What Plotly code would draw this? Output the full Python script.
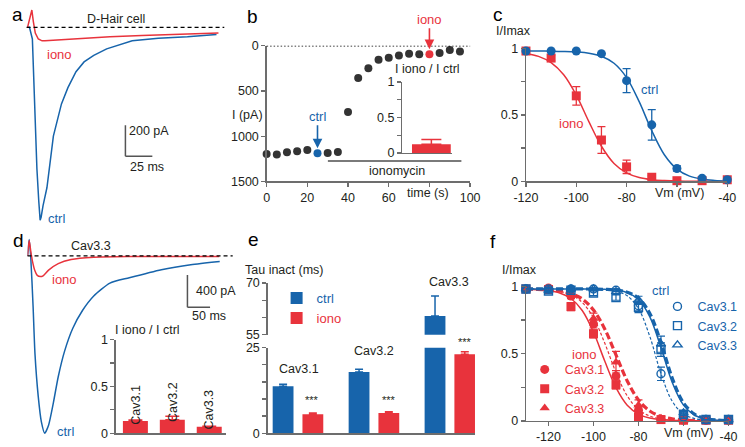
import plotly.graph_objects as go

W, H = 745, 447
FONT = "Liberation Sans, Arial, Helvetica, sans-serif"
BLUE = "#1764ab"
RED = "#e8333c"
DOT = "#333333"
AX = "#6d6d6d"
INK = "#231f20"

# ---------------- data ----------------
# (a) D-Hair cell currents (ms, pA)
a_t_ctrl = [0, 1.8, 4.5, 6.3, 8.7, 10.4, 11.7, 12.6, 14.4, 18.0, 24.0, 31.5, 37.5, 45.0, 52.5, 61.5, 73.5, 97.2, 121.5, 148.5, 175.5]
a_i_ctrl = [0, 0, -75, -494, -912, -1119, -1244, -1225, -1150, -1035, -702, -494, -389, -286, -223, -181, -139, -87, -71, -61, -46]
a_t_iono = [0, 2.7, 4.0, 5.4, 7.2, 10.0, 13.5, 16.2, 22.5, 46.8, 76.5, 106.2, 136.8, 166.5, 177.3]
a_i_iono = [0, 81, 112, 37, -37, -75, -87, -87, -84, -71, -61, -52, -46, -36, -36]

# (b) time course
b_time = [0, 5, 10, 15, 20, 25, 30, 35, 40, 45, 50, 55, 60, 65, 70, 75, 80, 85, 90, 95]
b_current = [1197, 1203, 1179, 1168, 1154, 1189, 1186, 1175, 732, 357, 250, 154, 132, 107, 89, 93, 93, 79, 46, 64]
b_ctrl_time = 25
b_iono_time = 80
b_ratio_label = ["iono/ctrl"]
b_ratio = [0.123]
b_ratio_err = [0.067]

# (c) inactivation D-Hair
c_v = [-120, -110, -100, -90, -80, -70, -60, -50, -40]
c_ctrl = [0.98, 0.98, 0.98, 0.96, 0.757, 0.425, 0.097, 0.024, 0.012]
c_ctrl_err = [0, 0, 0, 0, 0.09, 0.115, 0.02, 0.01, 0]
c_iono = [0.98, 0.927, 0.643, 0.311, 0.109, 0.031, 0.005, 0.005, 0.012]
c_iono_err = [0, 0.02, 0.07, 0.10, 0.05, 0.01, 0, 0, 0]
c_fit_v = [-120, -115, -110, -105, -100, -95, -90, -85, -80, -75, -70, -65, -60, -55, -50, -45, -40]
c_fit_ctrl = [0.980, 0.980, 0.979, 0.977, 0.973, 0.964, 0.941, 0.888, 0.780, 0.599, 0.381, 0.200, 0.092, 0.039, 0.016, 0.007, 0.003]
c_fit_iono = [0.962, 0.940, 0.893, 0.801, 0.648, 0.449, 0.264, 0.135, 0.064, 0.029, 0.013, 0.006, 0.002, 0.001, 0.0, 0.0, 0.0]

# (d) Cav3.3 currents (ms, pA)
d_t_ctrl = [0, 3.6, 7.1, 12.2, 16.5, 23.6, 30.6, 37.9, 46.5, 57.2, 67.9, 82.1, 100.1, 121.5, 146.4, 182.2, 225.0, 296.0, 361.0, 425.0]
d_i_ctrl = [0, 204, -16, -616, -1216, -1736, -2056, -2196, -2096, -1816, -1496, -1176, -896, -676, -496, -336, -270, -170, -108, -68]
d_t_iono = [0, 3.6, 7.1, 10.7, 16.1, 21.4, 28.5, 34.3, 46.5, 67.9, 96.4, 146.4, 225.0, 424.0]
d_i_iono = [0, 192, 60, -60, -180, -240, -256, -246, -176, -96, -44, -16, -8, -6]
d_channels = ["Cav3.1", "Cav3.2", "Cav3.3"]
d_ratio = [0.131, 0.145, 0.07]
d_ratio_err = [0.01, 0.035, 0.004]

# (e) Tau inactivation (ms)
e_channels = ["Cav3.1", "Cav3.2", "Cav3.3"]
e_ctrl = [13.7, 17.9, 60.4]
e_ctrl_err = [0.6, 0.8, 5.85]
e_iono = [5.57, 5.94, 23.1]
e_iono_err = [0.35, 0.36, 0.7]

# (f) inactivation Cav3.x
f_v = [-130, -120, -110, -100, -90, -80, -70, -60, -50, -40]
f_ctrl = {
    "Cav3.1": [0.98, 0.98, 0.98, 0.98, 0.97, 0.856, 0.35, 0.03, 0.01, 0.01],
    "Cav3.2": [0.98, 0.964, 0.97, 0.95, 0.916, 0.844, 0.53, 0.05, 0.01, 0.01],
    "Cav3.3": [0.98, 0.97, 0.98, 0.98, 0.96, 0.896, 0.57, 0.06, 0.01, 0.01],
}
f_ctrl_err = {
    "Cav3.1": [0, 0.01, 0.01, 0.01, 0.01, 0.04, 0.05, 0.01, 0, 0],
    "Cav3.2": [0, 0.02, 0.01, 0.02, 0.02, 0.04, 0.05, 0.01, 0, 0],
    "Cav3.3": [0, 0.01, 0.01, 0.01, 0.02, 0.03, 0.06, 0.01, 0, 0],
}
f_iono = {
    "Cav3.1": [0.98, 0.988, 0.928, 0.72, 0.333, 0.08, 0.01, 0.005, 0.005, 0.005],
    "Cav3.2": [0.98, 0.976, 0.849, 0.647, 0.268, 0.03, 0.01, 0.005, 0.005, 0.005],
    "Cav3.3": [0.98, 0.98, 0.945, 0.76, 0.436, 0.117, 0.02, 0.005, 0.005, 0.005],
}
f_iono_err = {
    "Cav3.1": [0, 0.01, 0.02, 0.03, 0.04, 0.03, 0.01, 0, 0, 0],
    "Cav3.2": [0, 0.01, 0.03, 0.03, 0.03, 0.02, 0.01, 0, 0, 0],
    "Cav3.3": [0, 0.01, 0.02, 0.04, 0.08, 0.04, 0.01, 0, 0, 0],
}
f_fit_v = [-130, -125, -120, -115, -110, -105, -100, -95, -90, -85, -80, -75, -70, -65, -60, -55, -50, -45, -40]
f_fit_ctrl = {
    "Cav3.1": [0.98, 0.98, 0.98, 0.98, 0.98, 0.98, 0.978, 0.975, 0.963, 0.929, 0.834, 0.629, 0.351, 0.146, 0.051, 0.017, 0.005, 0.002, 0.001],
    "Cav3.2": [0.98, 0.98, 0.98, 0.98, 0.98, 0.98, 0.979, 0.977, 0.971, 0.953, 0.902, 0.775, 0.544, 0.286, 0.117, 0.042, 0.014, 0.005, 0.002],
    "Cav3.3": [0.98, 0.98, 0.98, 0.98, 0.98, 0.98, 0.979, 0.977, 0.972, 0.956, 0.912, 0.800, 0.582, 0.318, 0.134, 0.049, 0.017, 0.006, 0.002],
}
f_fit_iono = {
    "Cav3.1": [0.979, 0.977, 0.973, 0.962, 0.937, 0.880, 0.766, 0.578, 0.360, 0.186, 0.084, 0.036, 0.015, 0.006, 0.002, 0.001, 0.0, 0.0, 0.0],
    "Cav3.2": [0.978, 0.975, 0.968, 0.950, 0.909, 0.820, 0.660, 0.445, 0.247, 0.117, 0.051, 0.021, 0.009, 0.004, 0.001, 0.001, 0.0, 0.0, 0.0],
    "Cav3.3": [0.979, 0.977, 0.973, 0.965, 0.946, 0.906, 0.824, 0.683, 0.490, 0.297, 0.156, 0.074, 0.034, 0.015, 0.007, 0.003, 0.001, 0.001, 0.0],
}

# ---------------- helpers ----------------
def xd(a, b):
    return [a / W, b / W]


def yd(top, bottom):
    return [1 - bottom / H, 1 - top / H]


def PX(x):
    return x / W


def PY(y):
    return 1 - y / H


def txt(x, y, s, color=INK, size=12.5, xanchor="center", **kw):
    return dict(x=PX(x), y=PY(y), xref="paper", yref="paper", text=s, showarrow=False,
                font=dict(size=size, color=color, family=FONT), xanchor=xanchor,
                yanchor="middle", **kw)


base_axis = dict(showline=True, linecolor=AX, linewidth=1.3, ticks="outside", ticklen=4,
                 tickwidth=1.3, tickcolor=AX, showgrid=False, zeroline=False,
                 tickfont=dict(size=12.5, color=INK, family=FONT), fixedrange=True)


def axis(**kw):
    d = dict(base_axis)
    d.update(kw)
    return d


def hidden(**kw):
    d = dict(visible=False, showgrid=False, zeroline=False, fixedrange=True)
    d.update(kw)
    return d


frac_ticks = dict(tickvals=[0, 0.25, 0.5, 0.75, 1], ticktext=["0", "", "0.5", "", "1"])

fig = go.Figure()

# ---------------- (a) ----------------
fig.add_trace(go.Scatter(x=a_t_ctrl, y=a_i_ctrl, xaxis="x", yaxis="y", mode="lines",
                         line=dict(color=BLUE, width=1.5), showlegend=False))
fig.add_trace(go.Scatter(x=a_t_iono, y=a_i_iono, xaxis="x", yaxis="y", mode="lines",
                         line=dict(color=RED, width=1.5), showlegend=False))

# ---------------- (b) ----------------
b_colors = [DOT] * len(b_time)
b_colors[b_time.index(b_ctrl_time)] = BLUE
b_colors[b_time.index(b_iono_time)] = RED
fig.add_trace(go.Scatter(x=b_time, y=b_current, xaxis="x2", yaxis="y2", mode="markers",
                         marker=dict(color=b_colors, size=8), cliponaxis=False, showlegend=False))
fig.add_trace(go.Bar(x=b_ratio_label, y=b_ratio, xaxis="x3", yaxis="y3", width=1.0,
                     marker=dict(color=RED, line=dict(width=0)),
                     error_y=dict(type="data", array=b_ratio_err, arrayminus=[0] * len(b_ratio),
                                  symmetric=False, color=RED, thickness=1.5, width=10),
                     showlegend=False))

# ---------------- (c) ----------------
fig.add_trace(go.Scatter(x=c_fit_v, y=c_fit_iono, xaxis="x4", yaxis="y4", mode="lines",
                         line=dict(color=RED, width=1.5, shape="spline"), showlegend=False))
fig.add_trace(go.Scatter(x=c_fit_v, y=c_fit_ctrl, xaxis="x4", yaxis="y4", mode="lines",
                         line=dict(color=BLUE, width=1.5, shape="spline"), showlegend=False))
fig.add_trace(go.Scatter(x=c_v, y=c_iono, xaxis="x4", yaxis="y4", mode="markers",
                         marker=dict(color=RED, size=9, symbol="square"), cliponaxis=False,
                         error_y=dict(type="data", array=c_iono_err, color=RED, thickness=1.3, width=4),
                         showlegend=False))
fig.add_trace(go.Scatter(x=c_v, y=c_ctrl, xaxis="x4", yaxis="y4", mode="markers",
                         marker=dict(color=BLUE, size=9, symbol="circle"), cliponaxis=False,
                         error_y=dict(type="data", array=c_ctrl_err, color=BLUE, thickness=1.3, width=4),
                         showlegend=False))

# ---------------- (d) ----------------
fig.add_trace(go.Scatter(x=d_t_ctrl, y=d_i_ctrl, xaxis="x5", yaxis="y5", mode="lines",
                         line=dict(color=BLUE, width=1.5, shape="spline", smoothing=0.6), showlegend=False))
fig.add_trace(go.Scatter(x=d_t_iono, y=d_i_iono, xaxis="x5", yaxis="y5", mode="lines",
                         line=dict(color=RED, width=1.5, shape="spline", smoothing=0.6), showlegend=False))
fig.add_trace(go.Bar(x=d_channels, y=d_ratio, xaxis="x6", yaxis="y6", width=0.677,
                     marker=dict(color=RED, line=dict(width=0)),
                     error_y=dict(type="data", array=d_ratio_err, arrayminus=[0] * len(d_ratio),
                                  symmetric=False, color=RED, thickness=1.5, width=7),
                     showlegend=False))

# ---------------- (e) ----------------
for ya, show in (("y7", True), ("y8", False)):
    fig.add_trace(go.Bar(x=e_channels, y=e_ctrl, xaxis="x7", yaxis=ya, offset=-0.333, width=0.274,
                         name="<span style='color:%s'>ctrl</span>" % BLUE,
                         marker=dict(color=BLUE, line=dict(width=0)),
                         error_y=dict(type="data", array=e_ctrl_err, arrayminus=[0] * 3,
                                      symmetric=False, color=BLUE, thickness=1.5, width=4),
                         showlegend=show, legend="legend"))
    fig.add_trace(go.Bar(x=e_channels, y=e_iono, xaxis="x7", yaxis=ya, offset=0.059, width=0.274,
                         name="<span style='color:%s'>iono</span>" % RED,
                         marker=dict(color=RED, line=dict(width=0)),
                         error_y=dict(type="data", array=e_iono_err, arrayminus=[0] * 3,
                                      symmetric=False, color=RED, thickness=1.5, width=4),
                         showlegend=show, legend="legend"))

# ---------------- (f) ----------------
fit_styles = {
    "Cav3.1": dict(width=1.2, dash="3px,2px"),
    "Cav3.2": dict(width=1.5, dash="solid"),
    "Cav3.3": dict(width=3.2, dash="7px,3px"),
}
for ch in ["Cav3.1", "Cav3.2", "Cav3.3"]:
    fig.add_trace(go.Scatter(x=f_fit_v, y=f_fit_iono[ch], xaxis="x8", yaxis="y9", mode="lines",
                             line=dict(color=RED, shape="spline", **fit_styles[ch]), showlegend=False))
for ch in ["Cav3.1", "Cav3.2", "Cav3.3"]:
    fig.add_trace(go.Scatter(x=f_fit_v, y=f_fit_ctrl[ch], xaxis="x8", yaxis="y9", mode="lines",
                             line=dict(color=BLUE, shape="spline", **fit_styles[ch]), showlegend=False))
iono_sym = {"Cav3.1": "circle", "Cav3.2": "square", "Cav3.3": "triangle-up"}
ctrl_sym = {"Cav3.1": "circle-open", "Cav3.2": "square-open", "Cav3.3": "triangle-up-open"}
for ch in ["Cav3.1", "Cav3.2", "Cav3.3"]:
    fig.add_trace(go.Scatter(x=f_v, y=f_iono[ch], xaxis="x8", yaxis="y9", mode="markers", name=ch,
                             marker=dict(color=RED, size=9, symbol=iono_sym[ch]), cliponaxis=False,
                             error_y=dict(type="data", array=f_iono_err[ch], color=RED, thickness=1.2, width=4),
                             legend="legend3", showlegend=True))
for ch in ["Cav3.1", "Cav3.2", "Cav3.3"]:
    fig.add_trace(go.Scatter(x=f_v, y=f_ctrl[ch], xaxis="x8", yaxis="y9", mode="markers", name=ch,
                             marker=dict(color=BLUE, size=8, symbol=ctrl_sym[ch], line=dict(width=1.4, color=BLUE)),
                             cliponaxis=False,
                             error_y=dict(type="data", array=f_ctrl_err[ch], color=BLUE, thickness=1.2, width=4),
                             legend="legend2", showlegend=True))

# ---------------- shapes ----------------
shapes = [
    # (a) baseline and scale bar
    dict(type="line", xref="x domain", yref="y", x0=0, x1=1, y0=0, y1=0,
         line=dict(color="black", width=1.2, dash="4px,3px")),
    dict(type="line", xref="x", yref="y", x0=90.9, x1=90.9, y0=-631, y1=-831, line=dict(color="#555", width=1.5)),
    dict(type="line", xref="x", yref="y", x0=90.9, x1=115.9, y0=-831, y1=-831, line=dict(color="#555", width=1.5)),
    # (b) zero line and ionomycin bar
    dict(type="line", xref="x2 domain", yref="y2", x0=0, x1=1, y0=0, y1=0,
         line=dict(color="black", width=1.6, dash="1.5px,2px")),
    dict(type="line", xref="x2", yref="y2", x0=30.1, x1=95.7, y0=1275, y1=1275, line=dict(color="#7a7a7a", width=2)),
    # (d) baseline and scale bar
    dict(type="line", xref="x5 domain", yref="y5", x0=0, x1=1, y0=0, y1=0,
         line=dict(color="black", width=1.2, dash="4px,3px")),
    dict(type="line", xref="x5", yref="y5", x0=353.6, x1=353.6, y0=-236, y1=-636, line=dict(color="#555", width=1.5)),
    dict(type="line", xref="x5", yref="y5", x0=353.6, x1=403.6, y0=-636, y1=-636, line=dict(color="#555", width=1.5)),
]

# ---------------- annotations ----------------
ann = [
    txt(5, 8, "a", size=19, color="black"),
    txt(247, 10, "b", size=19, color="black"),
    txt(500, 8, "c", size=19, color="black"),
    txt(6, 241, "d", size=19, color="black"),
    txt(248, 240, "e", size=19, color="black"),
    txt(495, 242, "f", size=19, color="black"),
    # a
    txt(106, 12, "D-Hair cell"),
    txt(48, 49, "iono", color=RED, size=13),
    txt(45, 218, "ctrl", color=BLUE, size=13),
    txt(117.5, 128, "200 pA", xanchor="left"),
    txt(138, 165, "25 ms"),
    # b
    txt(242, 111, "I (pA)"),
    txt(428, 64, "I iono / I ctrl"),
    txt(396, 169.5, "ionomycin"),
    txt(428, 192.5, "time (s)"),
    dict(x=b_ctrl_time, y=b_current[b_time.index(b_ctrl_time)], xref="x2", yref="y2", text="ctrl",
         showarrow=True, ax=0, ay=-37, arrowhead=2, arrowsize=1.2, arrowwidth=1.6, arrowcolor=BLUE,
         standoff=5, font=dict(size=13, color=BLUE, family=FONT)),
    dict(x=b_iono_time, y=b_current[b_time.index(b_iono_time)], xref="x2", yref="y2", text="iono",
         showarrow=True, ax=0, ay=-35, arrowhead=2, arrowsize=1.2, arrowwidth=1.6, arrowcolor=RED,
         standoff=5, font=dict(size=13, color=RED, family=FONT)),
    # c
    txt(516, 25, "I/Imax"),
    txt(657, 85, "ctrl", color=BLUE, size=13),
    txt(576, 120, "iono", color=RED, size=13),
    txt(688, 192.5, "Vm (mV)"),
    # d
    txt(80, 247, "Cav3.3"),
    txt(53, 281, "iono", color=RED, size=13),
    txt(54, 438, "ctrl", color=BLUE, size=13),
    txt(186.7, 292.7, "400 pA", xanchor="left"),
    txt(202, 319, "50 ms"),
    txt(139, 333.5, "I iono / I ctrl"),
    txt(126.7, 410.8, "Cav3.1", textangle=-90),
    txt(164.5, 407.3, "Cav3.2", textangle=-90),
    txt(202, 415.8, "Cav3.3", textangle=-90),
    # e
    txt(280, 271.5, "Tau inact (ms)"),
    txt(295, 373.3, "Cav3.1"),
    txt(373, 355, "Cav3.2"),
    txt(450, 284, "Cav3.3"),
    txt(309, 406, "***", size=11),
    txt(388.3, 406, "***", size=11),
    txt(466.3, 346, "***", size=11),
    # f
    txt(523, 271.7, "I/Imax"),
    txt(668.5, 292.7, "ctrl", color=BLUE, size=13),
    txt(590, 358.3, "iono", color=RED, size=13),
    txt(697, 440, "Vm (mV)"),
]

leg_common = dict(xanchor="left", yanchor="top", bgcolor="rgba(0,0,0,0)", borderwidth=0,
                  itemclick=False, itemdoubleclick=False, tracegroupgap=0, orientation="v")

fig.update_layout(
    width=W, height=H, autosize=False,
    margin=dict(l=0, r=0, t=0, b=0, pad=0),
    paper_bgcolor="white", plot_bgcolor="rgba(0,0,0,0)",
    font=dict(family=FONT, size=12.5, color=INK),
    barmode="overlay",
    showlegend=True,
    legend=dict(x=PX(272), y=PY(285), font=dict(size=13, family=FONT), **leg_common),
    legend2=dict(x=PX(665), y=PY(294), font=dict(size=12.5, family=FONT, color=BLUE), **leg_common),
    legend3=dict(x=PX(528), y=PY(359), font=dict(size=12.5, family=FONT, color=RED), **leg_common),
    xaxis=hidden(domain=xd(14, 218), range=[-0.9, 182.7], anchor="y"),
    yaxis=hidden(domain=yd(0, 222), range=[-1256.25, 131.25], anchor="x"),
    xaxis2=axis(domain=xd(261.7, 471.7), range=[0, 100], anchor="y2",
                tickvals=[0, 20, 40, 60, 80, 100], ticktext=["0", "20", "40", "60", "", "100"]),
    yaxis2=axis(domain=yd(40, 180), range=[1500, 0], anchor="x2",
                tickvals=[0, 500, 1000, 1500], ticktext=["0", "500", "1000", "1500"]),
    xaxis3=axis(domain=xd(401.7, 452.7), range=[-0.75, 0.525], anchor="y3", type="category",
                ticks="", showticklabels=False),
    yaxis3=axis(domain=yd(77.3, 150.7), range=[0, 1], anchor="x3", **frac_ticks),
    xaxis4=axis(domain=xd(529.3, 737), range=[-120, -40], anchor="y4",
                tickvals=[-120, -100, -80, -60, -40], ticktext=["-120", "-100", "-80", "", "-40"]),
    yaxis4=axis(domain=yd(42.7, 180), range=[0, 1], anchor="x4", **frac_ticks),
    xaxis5=hidden(domain=xd(15, 226.7), range=[0, 453.7], anchor="y5"),
    yaxis5=hidden(domain=yd(238, 445), range=[-2256, 228], anchor="x5"),
    xaxis6=axis(domain=xd(106, 220), range=[-0.533, 2.46], anchor="y6", type="category",
                ticks="", showticklabels=False),
    yaxis6=axis(domain=yd(343.3, 440), range=[0, 1], anchor="x6", **frac_ticks),
    xaxis7=axis(domain=xd(262.7, 476.7), range=[-0.4, 2.33], anchor="y7", type="category",
                ticks="", showticklabels=False),
    yaxis7=axis(domain=yd(351.7, 440), range=[0, 25], anchor="x7",
                tickvals=[0, 5, 10, 15, 20, 25], ticktext=["0", "", "", "", "", "25"]),
    yaxis8=axis(domain=yd(285, 338.3), range=[55, 70], anchor="x7",
                tickvals=[55, 60, 65, 70], ticktext=["55", "", "", "70"]),
    xaxis8=axis(domain=xd(529.3, 738.3), range=[-130, -40], anchor="y9",
                tickvals=[-120, -100, -80, -60, -40], ticktext=["-120", "-100", "-80", "", "-40"]),
    yaxis9=axis(domain=yd(288.3, 427.3), range=[0, 1], anchor="x8", **frac_ticks),
    shapes=shapes,
    annotations=ann,
)

fig.write_html("out.html", config={"displayModeBar": False, "staticPlot": True},
               post_script="document.body.style.margin='0';document.body.style.padding='0';document.body.style.overflow='hidden';")
